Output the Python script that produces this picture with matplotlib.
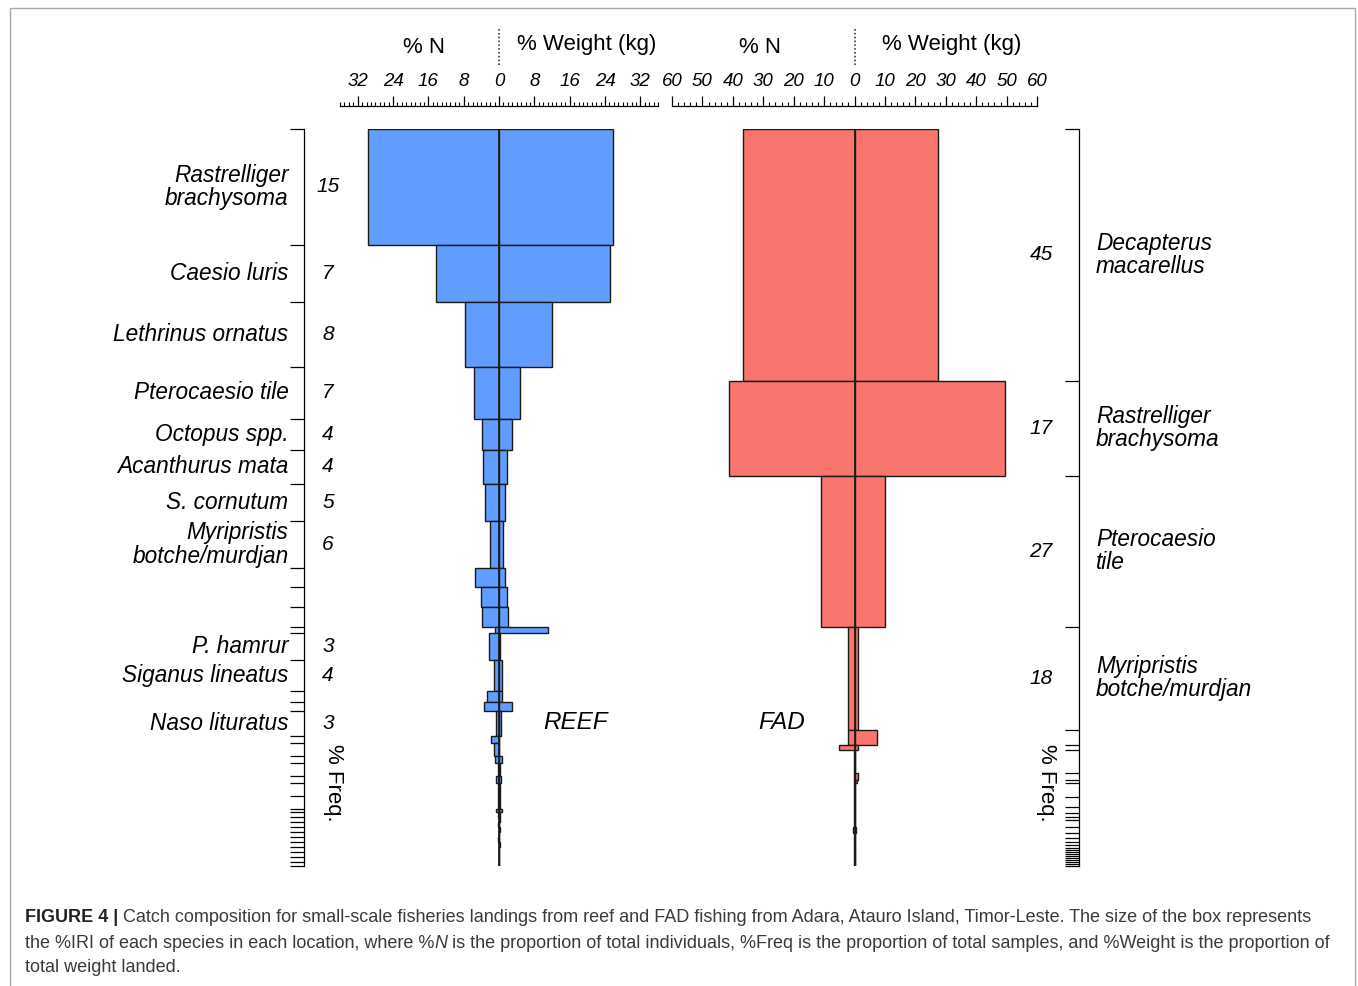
import numpy as np
import matplotlib
matplotlib.use('Agg')
import matplotlib.pyplot as plt
from matplotlib.ticker import MultipleLocator, FuncFormatter, FixedLocator
from matplotlib.patches import Rectangle

plt.rcParams['font.family'] = ['Liberation Sans', 'DejaVu Sans']

# reef catch, one row per species: % Freq (box height), % N (left), % Weight (right)
reef_labels = ['Rastrelliger\nbrachysoma', 'Caesio luris', 'Lethrinus ornatus', 'Pterocaesio tile',
               'Octopus spp.', 'Acanthurus mata', 'S. cornutum', 'Myripristis\nbotche/murdjan',
               '', '', '', '', 'P. hamrur', 'Siganus lineatus', '', '', 'Naso lituratus',
               '', '', '', '', '', '', '', '',
               '', '', '', '', '', '', '', '', '', '', '']
reef_freq = [15.0, 7.4, 8.4, 6.7, 4.1, 4.3, 4.9, 6.0,
             2.5, 2.6, 2.6, 0.8, 3.4, 4.1, 1.4, 1.2, 3.2,
             0.9, 1.7, 0.9, 1.7, 0.8, 1.7, 1.7, 0.4,
             0.65, 0.65, 0.65, 0.65, 0.65, 0.65, 0.65, 0.65, 0.65, 0.65, 0.5]
reef_n = [29.7, 14.2, 7.7, 5.6, 3.8, 3.6, 3.2, 2.0,
          5.4, 4.0, 3.8, 0.9, 2.3, 1.1, 2.8, 3.4, 0.7,
          1.8, 1.1, 0.9, 0.3, 0.7, 0.3, 0.2, 0.6,
          0.2, 0.1, 0.2, 0.1, 0.1, 0.2, 0.1, 0.1, 0.1, 0.1, 0.05]
reef_w = [25.9, 25.2, 11.9, 4.7, 2.9, 1.8, 1.35, 0.9,
          1.35, 1.8, 2.0, 11.0, 0.2, 0.7, 0.6, 2.9, 0.4,
          0.1, 0.1, 0.7, 0.3, 0.5, 0.3, 0.3, 0.7,
          0.3, 0.2, 0.1, 0.2, 0.1, 0.1, 0.2, 0.1, 0.1, 0.1, 0.05]

# FAD catch
fad_labels = ['Decapterus\nmacarellus', 'Rastrelliger\nbrachysoma', 'Pterocaesio\ntile',
              'Myripristis\nbotche/murdjan', '', '',
              '', '', '', '', '', '', '', '', '', '', '', '', '', '',
              '', '', '', '', '', '', '', '', '']
fad_freq = [45.0, 17.0, 27.0, 18.4, 2.7, 0.9,
            4.1, 1.4, 0.5, 2.5, 1.8, 1.1, 0.7, 0.5, 1.25, 1.1, 0.9, 0.7, 0.5, 0.5,
            0.36, 0.36, 0.36, 0.36, 0.36, 0.36, 0.36, 0.36, 0.36]
fad_n = [36.6, 41.3, 10.9, 2.3, 2.0, 5.0,
         0.3, 0.1, 0.1, 0.3, 0.2, 0.2, 0.1, 0.1, 0.3, 0.4, 0.3, 0.2, 0.1, 0.1,
         0.1, 0.1, 0.1, 0.1, 0.1, 0.1, 0.1, 0.1, 0.1]
fad_w = [27.4, 49.5, 9.9, 1.3, 7.3, 1.3,
         0.2, 1.0, 0.9, 0.2, 0.2, 0.1, 0.1, 0.1, 0.3, 0.4, 0.3, 0.1, 0.1, 0.1,
         0.1, 0.1, 0.1, 0.1, 0.1, 0.1, 0.1, 0.1, 0.1]

BLUE = '#619CFF'
RED = '#F8766D'
EDGE = '#1a1a1a'

W, H = 1358, 986
fig = plt.figure(figsize=(W / 100, H / 100), dpi=100)

ax_reef = fig.add_axes([340 / W, (H - 866) / H, 318 / W, 737 / H])
ax_fad = fig.add_axes([672 / W, (H - 866) / H, 365 / W, 737 / H])


def draw_panel(ax, freq, pct_n, pct_w, color, xmax, major, minor):
    freq = np.array(freq)
    start = np.concatenate([[0], np.cumsum(freq)[:-1]])
    ax.barh(start, -np.array(pct_n), height=freq, align='edge',
            color=color, edgecolor=EDGE, linewidth=1.0)
    ax.barh(start, pct_w, height=freq, align='edge',
            color=color, edgecolor=EDGE, linewidth=1.0)
    ax.axvline(0, color=EDGE, lw=1.2)
    total = freq.sum()
    ax.set_ylim(total, 0)
    ax.set_xlim(-xmax, xmax)

    ax.xaxis.set_ticks_position('top')
    ax.xaxis.set_major_locator(MultipleLocator(major))
    ax.xaxis.set_minor_locator(MultipleLocator(minor))
    ax.xaxis.set_major_formatter(FuncFormatter(lambda v, p: f'{abs(v):g}'))
    ax.tick_params(axis='x', which='major', direction='out', length=7, width=0.9,
                   labelsize=13.5, pad=4.5)
    ax.tick_params(axis='x', which='minor', direction='out', length=3, width=0.8)
    ax.spines['top'].set_position(('outward', 16.6))
    ax.spines['bottom'].set_visible(False)
    for s in ax.spines.values():
        s.set_linewidth(0.9)
    ax.yaxis.set_major_locator(FixedLocator(np.concatenate([[0], np.cumsum(freq)])))
    ax.set_yticklabels([])
    plt.setp(ax.get_xticklabels(), fontstyle='italic')
    return start + freq / 2


# reef panel
mid = draw_panel(ax_reef, reef_freq, reef_n, reef_w, BLUE, 36, 8, 1)
ax_reef.spines['right'].set_visible(False)
ax_reef.spines['left'].set_position(('outward', 25.9))
ax_reef.tick_params(axis='y', direction='out', length=10, width=0.9)
for y, lab, f in zip(mid, reef_labels, reef_freq):
    if lab:
        ax_reef.annotate(lab, xy=(0, y), xycoords=('axes fraction', 'data'),
                         xytext=(-37, 0), textcoords='offset points', ha='right', va='center',
                         fontsize=16.3, style='italic', linespacing=1.02, multialignment='right')
        ax_reef.annotate(f'{round(f)}', xy=(0, y), xycoords=('axes fraction', 'data'),
                         xytext=(-8.6, 0), textcoords='offset points', ha='center', va='center',
                         fontsize=15, style='italic')
ax_reef.annotate('% Freq.', xy=(0, 0.113), xycoords='axes fraction', xytext=(-5, 0),
                 textcoords='offset points', rotation=270, ha='center', va='center', fontsize=16)
ax_reef.text(10, 0.195, 'REEF', transform=ax_reef.get_xaxis_transform(),
             ha='left', va='center', fontsize=17.5, style='italic')

# FAD panel
mid = draw_panel(ax_fad, fad_freq, fad_n, fad_w, RED, 60, 10, 2)
ax_fad.spines['left'].set_visible(False)
ax_fad.spines['right'].set_position(('outward', 30.2))
ax_fad.yaxis.set_ticks_position('right')
ax_fad.tick_params(axis='y', direction='in', length=10, width=0.9)
for y, lab, f in zip(mid, fad_labels, fad_freq):
    if lab:
        ax_fad.annotate(lab, xy=(1, y), xycoords=('axes fraction', 'data'),
                        xytext=(42.5, 0), textcoords='offset points', ha='left', va='center',
                        fontsize=16.3, style='italic', linespacing=1.02)
        ax_fad.annotate(f'{round(f)}', xy=(1, y), xycoords=('axes fraction', 'data'),
                        xytext=(3, 0), textcoords='offset points', ha='center', va='center',
                        fontsize=15, style='italic')
ax_fad.annotate('% Freq.', xy=(1, 0.113), xycoords='axes fraction', xytext=(7, 0),
                textcoords='offset points', rotation=270, ha='center', va='center', fontsize=16)
ax_fad.text(-31.7, 0.195, 'FAD', transform=ax_fad.get_xaxis_transform(),
            ha='left', va='center', fontsize=17.5, style='italic')

# headers above the rulers
for ax, xn, xw in [(ax_reef, -17, 19.8), (ax_fad, -31, 32)]:
    tr = ax.get_xaxis_transform()
    ax.text(xn, 1.111, '% N', transform=tr, ha='center', va='center', fontsize=16)
    ax.text(xw, 1.114, '% Weight (kg)', transform=tr, ha='center', va='center', fontsize=16)
    ax.axvline(0, ymin=1.087, ymax=1.137, color='#222', lw=1.1, ls=(0, (1, 1.5)), clip_on=False)

# caption
cap_color = '#3a3a3a'
cap_size = 13
t1 = fig.text(25 / W, 1 - 918 / H, 'FIGURE 4 |', fontsize=cap_size, weight='bold',
              color='#222', va='center', ha='left')
ax_reef.annotate('Catch composition for small-scale fisheries landings from reef and FAD fishing '
                 'from Adara, Atauro Island, Timor-Leste. The size of the box represents',
                 xy=(1, 0), xycoords=t1, xytext=(3.5, 0), textcoords='offset points',
                 va='bottom', ha='left', fontsize=cap_size, color=cap_color, annotation_clip=False)
t2 = fig.text(25 / W, 1 - 943 / H, 'the %IRI of each species in each location, where %',
              fontsize=cap_size, color=cap_color, va='center', ha='left')
t3 = ax_reef.annotate('N', xy=(1, 0), xycoords=t2, va='bottom', ha='left', fontsize=cap_size,
                      style='italic', color=cap_color, annotation_clip=False)
ax_reef.annotate('is the proportion of total individuals, %Freq is the proportion of total '
                 'samples, and %Weight is the proportion of',
                 xy=(1, 0), xycoords=t3, xytext=(3.6, 0), textcoords='offset points',
                 va='bottom', ha='left', fontsize=cap_size, color=cap_color, annotation_clip=False)
fig.text(25 / W, 1 - 968 / H, 'total weight landed.', fontsize=cap_size, color=cap_color,
         va='center', ha='left')

fig.add_artist(Rectangle((10 / W, -0.05), 1345 / W, 1.05 - 8 / H, transform=fig.transFigure,
                         fill=False, edgecolor='#aaaaaa', lw=1.0))

fig.savefig('out.png', dpi=100)
